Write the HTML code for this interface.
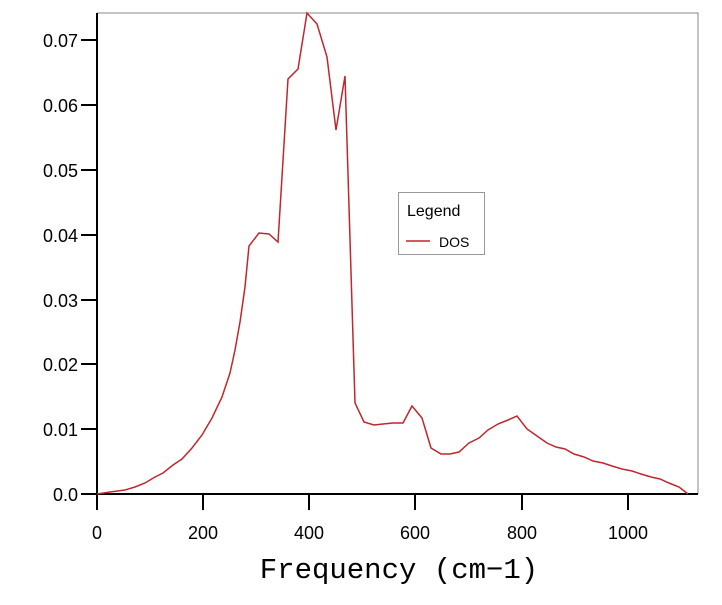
<!DOCTYPE html>
<html><head><style>body{margin:0;background:#fff}</style></head><body>
<svg width="722" height="600" xmlns="http://www.w3.org/2000/svg" font-family="Liberation Sans, sans-serif">
<rect width="722" height="600" fill="#fff"/>
<polyline fill="none" stroke="#888" stroke-width="1" points="97,13 698,13 698,494"/>
<g stroke="#000" stroke-width="2">
<line x1="97" y1="13" x2="97" y2="495"/>
<line x1="96" y1="494" x2="698" y2="494"/>
<line x1="97" y1="494" x2="97" y2="510"/>
<line x1="203" y1="494" x2="203" y2="510"/>
<line x1="309" y1="494" x2="309" y2="510"/>
<line x1="415" y1="494" x2="415" y2="510"/>
<line x1="522" y1="494" x2="522" y2="510"/>
<line x1="628" y1="494" x2="628" y2="510"/>
<line x1="81" y1="494" x2="97" y2="494"/>
<line x1="81" y1="429" x2="97" y2="429"/>
<line x1="81" y1="364" x2="97" y2="364"/>
<line x1="81" y1="300" x2="97" y2="300"/>
<line x1="81" y1="235" x2="97" y2="235"/>
<line x1="81" y1="170" x2="97" y2="170"/>
<line x1="81" y1="105" x2="97" y2="105"/>
<line x1="81" y1="40" x2="97" y2="40"/>
</g>
<g font-size="18" text-anchor="end" fill="#000">
<text x="78" y="501">0.0</text>
<text x="78" y="436">0.01</text>
<text x="78" y="371">0.02</text>
<text x="78" y="307">0.03</text>
<text x="78" y="242">0.04</text>
<text x="78" y="177">0.05</text>
<text x="78" y="112">0.06</text>
<text x="78" y="47">0.07</text>
</g>
<g font-size="18" text-anchor="middle" fill="#000">
<text x="97" y="539">0</text>
<text x="203" y="539">200</text>
<text x="309" y="539">400</text>
<text x="415" y="539">600</text>
<text x="522" y="539">800</text>
<text x="628" y="539">1000</text>
</g>
<text x="399" y="578" font-family="Liberation Mono, monospace" font-size="29" text-anchor="middle" fill="#000">Frequency (cm−1)</text>
<polyline fill="none" stroke="#c0272d" stroke-width="1.5" points="97,494 110,492 125,490 135,487 145,483 155,477 163,473 173,465 182,459 192,448 202,435 212,418 222,397 230,373 235,350 240,322 245,287 249,246 259,233 269,234 278,242 288,79 298,69 307,13 317,24 327,57 336,130 345,76 355,403 364,422 374,425 383,424 393,423 403,423 412,406 422,418 431,448 441,454 450,454 459,452 469,443 479,438 488,430 498,424 508,420 517,416 527,429 537,436 547,443 556,447 565,449 574,454 584,457 593,461 603,463 612,466 622,469 632,471 641,474 651,477 660,479 669,483 679,487 688,494"/>
<rect x="398.5" y="192.5" width="86" height="62" fill="#fff" stroke="#999" stroke-width="1"/>
<text x="407" y="216" font-size="16" fill="#000">Legend</text>
<line x1="406" y1="241" x2="430" y2="241" stroke="#c0272d" stroke-width="1.5"/>
<text x="439" y="247" font-size="14" fill="#000">DOS</text>
</svg>
</body></html>
